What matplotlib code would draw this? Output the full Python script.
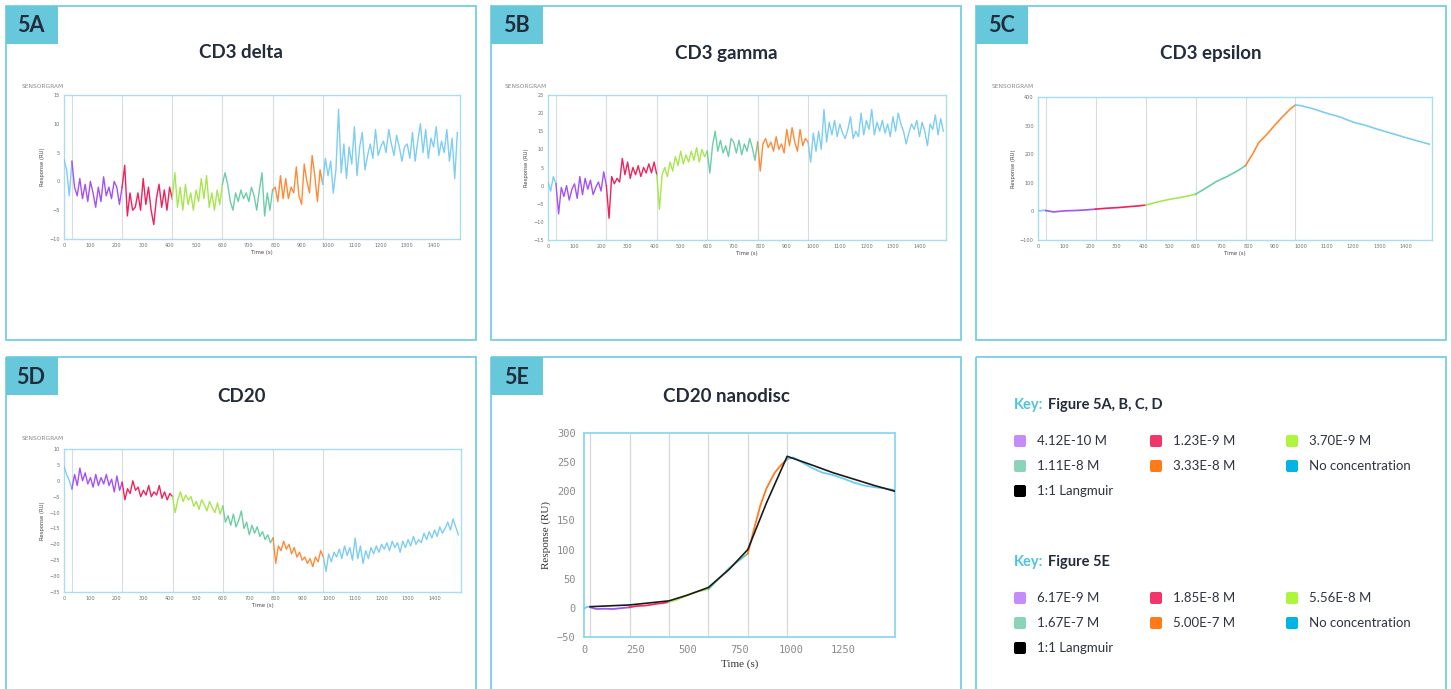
import numpy as np
import matplotlib
matplotlib.use("Agg")
import matplotlib.pyplot as plt
from matplotlib.patches import Rectangle, FancyBboxPatch

W, H = 1451, 689

# injection cycle boundaries (s): baseline, 5 concentrations, dissociation
CYCLES = [0, 30, 220, 410, 600, 790, 980, 1500]
SEG_COLORS = ["#7ECDF2", "#A452F4", "#F0225C", "#A8E650", "#6DCEA6", "#FF8A38", "#7ECDF2"]
FIT_COLORS = ["#6ACDF5", "#9B59F0", "#F03060", "#B4E864", "#60CFA0", "#FF7A20", "#6ACDF5"]

# raw sensorgrams, one reading every 10 s
t_raw = np.arange(0, 1500, 10)

cd3_delta = [
    3.8, 2.0, -2.5, 3.5, -1.0, -2.5, 0.5, -3.0, -0.5, -3.5,
    0.0, -2.0, -4.5, -1.0, -3.5, 0.8, -2.5, -1.0, -3.0, 0.0,
    -1.0, -4.0, -1.0, 2.8, -6.0, -2.0, -5.0, -4.5, -2.0, -5.0,
    0.5, -4.0, -1.0, -5.0, -7.5, -3.0, -0.5, -4.5, -1.5, -5.0,
    -1.0, -3.0, 1.5, -4.5, -1.0, -5.0, -0.5, -4.0, -2.0, -5.0,
    -1.5, -3.5, 0.5, -3.0, 1.0, -4.5, -2.0, -5.0, -1.5, -4.0,
    -0.5, 1.5, -0.5, -3.5, -5.0, -2.0, -3.5, -1.5, -3.0, -2.0,
    -3.5, -1.0, -2.5, -5.0, -1.5, 1.5, -6.0, -2.0, -5.0, -1.5,
    -1.0, -3.5, 1.0, -3.0, 0.5, -3.0, -1.0, -2.0, 2.5, -2.5,
    -4.0, 3.0, 0.0, -2.0, 4.5, 1.0, -3.5, 2.0, -0.5, 4.0,
    1.0, 3.5, -2.0, 2.0, 12.5, 1.5, 6.5, 0.5, 6.0, 3.0,
    9.5, 1.0, 6.0, 8.5, 2.0, 4.5, 6.5, 4.0, 9.0, 4.5,
    6.0, 7.0, 5.0, 9.0, 6.5, 4.5, 8.0, 6.0, 3.5, 6.0,
    6.5, 4.0, 8.5, 3.5, 7.0, 10.0, 5.0, 9.0, 4.0, 7.5,
    6.0, 9.5, 4.5, 7.0, 5.0, 9.0, 3.5, 7.5, 0.5, 8.5,
]

cd3_gamma = [
    1.0, -1.5, 2.5, 0.5, -7.8, -0.5, -3.0, 0.0, -4.0, -1.0,
    0.5, -3.5, 2.5, -2.5, 2.0, -1.0, 1.5, -2.5, -0.5, 1.0,
    -1.5, 3.8, 0.0, -9.0, 2.5, 0.5, 2.0, 1.0, 7.5, 3.0,
    6.5, 2.0, 5.0, 3.0, 5.5, 2.5, 5.0, 3.5, 6.0, 3.5,
    6.5, 3.0, -6.5, 3.0, 5.0, 2.5, 6.5, 4.0, 8.0, 5.5,
    9.5, 6.0, 8.5, 6.5, 9.5, 7.0, 10.5, 6.5, 10.0, 8.0,
    9.5, 3.5, 11.0, 15.0, 9.5, 12.5, 9.0, 11.0, 8.0, 13.0,
    12.0, 9.0, 12.5, 8.5, 11.5, 9.5, 13.0, 10.5, 7.0, 12.0,
    4.0, 11.5, 13.0, 10.5, 12.0, 9.5, 13.5, 10.0, 11.5, 9.0,
    15.5, 11.0, 16.0, 12.0, 9.5, 15.5, 11.0, 13.0, 12.0, 6.5,
    14.5, 9.5, 15.0, 10.0, 21.0, 12.0, 17.5, 14.0, 18.0, 13.5,
    17.0, 14.5, 13.0, 15.5, 19.0, 13.0, 15.0, 13.5, 20.0, 14.0,
    18.0, 15.5, 21.0, 14.0, 17.5, 15.0, 18.0, 14.5, 17.0, 13.5,
    19.0, 15.0, 20.0, 17.0, 15.0, 11.5, 14.5, 17.0, 15.5, 18.0,
    13.5, 17.5, 15.0, 11.0, 17.0, 15.5, 19.5, 14.0, 18.5, 15.0,
]

cd20 = [
    4.5, 2.0, 0.0, -2.5, 2.0, -1.5, 4.0, 0.0, 2.5, -1.0,
    1.0, -2.0, 2.0, -1.5, 1.0, -1.0, 2.0, -1.5, 0.5, -3.5,
    1.5, -3.0, -0.5, -6.0, -2.5, -4.0, 0.0, -3.0, -2.0, -5.0,
    -3.0, -4.5, -1.5, -5.0, -3.5, -4.5, -1.5, -5.5, -3.5, -6.0,
    -4.0, -5.0, -10.0, -6.0, -3.5, -6.5, -4.5, -6.0, -5.0, -8.0,
    -6.5, -9.0, -6.0, -7.5, -9.5, -6.5, -8.5, -10.0, -7.0, -10.5,
    -8.0, -13.0, -11.0, -14.0, -10.5, -14.5, -12.5, -9.5, -15.0, -13.0,
    -17.0, -14.0, -16.5, -14.5, -17.5, -16.0, -18.5, -17.0, -19.5, -18.0,
    -26.0, -20.5, -22.0, -19.0, -21.5, -20.0, -23.0, -21.0, -24.0, -22.5,
    -25.0, -24.0, -26.0, -24.5, -27.0, -24.0, -25.5, -22.0, -24.0, -28.5,
    -23.0, -25.5, -22.5, -24.0, -21.5, -24.5, -20.5, -23.5, -21.0, -25.0,
    -18.0, -24.5, -20.5, -26.0, -22.0, -24.5, -21.0, -23.0, -20.5, -22.5,
    -20.0, -21.5, -19.5, -22.0, -19.0, -21.0, -19.5, -22.5, -19.0, -21.0,
    -18.5, -20.5, -17.5, -20.0, -18.5, -19.5, -16.5, -18.5, -16.0, -18.0,
    -15.5, -17.5, -14.5, -16.5, -15.0, -13.0, -15.5, -12.0, -14.5, -17.0,
]

# CD3 epsilon – smooth binding curve
eps_t = [0, 10, 20, 30, 60, 100, 140, 180, 220, 260, 300, 340, 380, 410,
         450, 500, 550, 600, 640, 680, 720, 760, 790, 820, 840, 870, 900,
         930, 960, 980, 1000, 1050, 1100, 1150, 1200, 1250, 1300, 1350,
         1400, 1450, 1490]
eps_ru = [3, 2, 4, 3, -2, 2, 3, 5, 8, 11, 13, 16, 19, 22,
          32, 42, 50, 60, 82, 105, 122, 142, 160, 205, 240, 268, 300,
          330, 358, 372, 370, 358, 343, 330, 312, 300, 285, 272,
          258, 245, 235]

# CD20 nanodisc – measured curve and 1:1 Langmuir fit
nd_t = [0, 10, 20, 30, 60, 100, 140, 180, 220, 250, 300, 350, 380, 410,
        450, 500, 550, 600, 650, 700, 750, 790, 820, 850, 880, 920, 950,
        980, 1010, 1050, 1100, 1150, 1200, 1250, 1300, 1350, 1400, 1450,
        1500]
nd_ru = [-2, 1, 2, 1, -2, -1.5, -2, -0.5, 1, 3, 4, 7, 8, 10,
         14, 22, 28, 32, 50, 68, 82, 93, 135, 175, 205, 232, 245,
         255, 258, 250, 240, 232, 228, 222, 215, 210, 207, 205,
         202]
fit_t = [30, 220, 410, 500, 600, 700, 790, 880, 980, 1100, 1200, 1300, 1400, 1500]
fit_ru = [2, 5, 12, 22, 35, 66, 100, 180, 260, 245, 232, 221, 210, 200]

key_a_labels = ["4.12E-10 M", "1.23E-9 M", "3.70E-9 M",
                "1.11E-8 M", "3.33E-8 M", "No concentration", "1:1 Langmuir"]
key_e_labels = ["6.17E-9 M", "1.85E-8 M", "5.56E-8 M",
                "1.67E-7 M", "5.00E-7 M", "No concentration", "1:1 Langmuir"]
key_colors = ["#C38CF8", "#F2366C", "#AEF53F", "#8AD4B8", "#FF7B16", "#00B4E6", "#000000"]

BORDER = "#74CFE3"
TAB = "#67C8DC"
INK = "#222C3A"

plt.rcParams["font.family"] = ["Lato", "DejaVu Sans"]


def px_rect(x0, y0, x1, y1):
    return [x0 / W, 1 - y1 / H, (x1 - x0) / W, (y1 - y0) / H]


def draw_cycles(ax, t, y, colors, lw=1.0):
    t = np.asarray(t)
    y = np.asarray(y)
    for i, c in enumerate(colors):
        m = (t >= CYCLES[i]) & (t <= CYCLES[i + 1])
        ax.plot(t[m], y[m], color=c, lw=lw, solid_joinstyle="round", zorder=3)


def style_sensorgram(ax, ylim, yticks):
    ax.set_xlim(0, 1500)
    ax.set_ylim(*ylim)
    ax.set_xticks(range(0, 1500, 100))
    ax.set_yticks(yticks)
    ax.tick_params(length=0, labelsize=3.6, labelcolor="#707070", pad=3)
    for lab in ax.get_xticklabels() + ax.get_yticklabels():
        lab.set_family("DejaVu Sans")
    for s in ax.spines.values():
        s.set_color("#A9DDF2")
        s.set_linewidth(1.0)
    for b in CYCLES[1:-1]:
        ax.axvline(b, color="#D8DBDF", lw=0.8, zorder=1)
    ax.set_xlabel("Time (s)", fontsize=3.8, labelpad=1.5, color="#444444", family="DejaVu Sans")
    ax.set_ylabel("Response (RU)", fontsize=3.8, labelpad=3, color="#444444", family="DejaVu Sans")


fig = plt.figure(figsize=(W / 100, H / 100), dpi=100)
ov = fig.add_axes([0, 0, 1, 1])
ov.set_xlim(0, W)
ov.set_ylim(H, 0)
ov.axis("off")

# panel frames, tabs and titles
panels = [
    (6, 6, 476, 340, "5A", "CD3 delta", 53),
    (491, 6, 961, 340, "5B", "CD3 gamma", 53),
    (976, 6, 1446, 340, "5C", "CD3 epsilon", 53),
    (6, 357, 476, 720, "5D", "CD20", 396),
    (491, 357, 961, 720, "5E", "CD20 nanodisc", 396),
    (976, 357, 1446, 720, None, None, None),
]
for x0, y0, x1, y1, tag, title, ty in panels:
    ov.add_patch(Rectangle((x0, y0), x1 - x0, y1 - y0, fill=False, ec=BORDER, lw=1.3))
    if tag:
        ov.add_patch(Rectangle((x0, y0), 52, 38, fc=TAB, ec="none"))
        ov.text(x0 + 25, y0 + 20, tag, ha="center", va="center",
                fontsize=15.5, fontweight="bold", color=INK)
        ov.text((x0 + x1) / 2, ty, title, ha="center", va="center",
                fontsize=13.5, fontweight="bold", color=INK)

for x, y in [(22, 86), (505, 86), (992, 86), (22, 439)]:
    ov.text(x, y, "SENSORGRAM", fontsize=4.2, color="#888888", va="center",
            family="DejaVu Sans")

# 5A CD3 delta
ax = fig.add_axes(px_rect(64, 95, 460, 239))
draw_cycles(ax, t_raw, cd3_delta, SEG_COLORS)
style_sensorgram(ax, (-10, 15), range(-10, 16, 5))

# 5B CD3 gamma
ax = fig.add_axes(px_rect(548, 95, 946, 240))
draw_cycles(ax, t_raw, cd3_gamma, SEG_COLORS)
style_sensorgram(ax, (-15, 25), range(-15, 26, 5))

# 5C CD3 epsilon
ax = fig.add_axes(px_rect(1038, 97, 1432, 240))
draw_cycles(ax, eps_t, eps_ru, SEG_COLORS, lw=1.2)
style_sensorgram(ax, (-100, 400), range(-100, 401, 100))

# 5D CD20
ax = fig.add_axes(px_rect(64, 449, 461, 592))
draw_cycles(ax, t_raw, cd20, SEG_COLORS)
style_sensorgram(ax, (-35, 10), range(-35, 11, 5))

# 5E CD20 nanodisc with Langmuir fit
ax = fig.add_axes(px_rect(584, 433, 895, 637))
for b in CYCLES[1:-1]:
    ax.axvline(b, color="#D4D7DB", lw=0.9, zorder=1)
draw_cycles(ax, nd_t, nd_ru, FIT_COLORS, lw=1.3)
ax.plot(fit_t, fit_ru, color="#1A1A1A", lw=1.2, zorder=4)
ax.set_xlim(0, 1500)
ax.set_ylim(-50, 300)
ax.set_xticks(range(0, 1500, 250))
ax.set_yticks(range(-50, 301, 50))
ax.tick_params(length=0, labelsize=7.5, labelcolor="#8A8A8A", pad=6)
for lab in ax.get_xticklabels() + ax.get_yticklabels():
    lab.set_family("DejaVu Sans Mono")
for s in ax.spines.values():
    s.set_color("#8DD8F0")
    s.set_linewidth(1.3)
ax.set_xlabel("Time (s)", fontsize=8, family="Liberation Serif", color="#333333", labelpad=3)
ax.set_ylabel("Response (RU)", fontsize=8, family="Liberation Serif", color="#333333", labelpad=4)

# keys
col_x = [1014, 1150, 1286]
for head_y, labels, head in [(405, key_a_labels, "Figure 5A, B, C, D"),
                             (562, key_e_labels, "Figure 5E")]:
    ov.text(1014, head_y, "Key:", fontsize=10.5, fontweight="bold", color="#4EC4DE", va="center")
    ov.text(1048, head_y, head, fontsize=10.5, fontweight="bold", color=INK, va="center")
    for i, (lab, c) in enumerate(zip(labels, key_colors)):
        cx = col_x[i % 3]
        cy = head_y + 36 + 25 * (i // 3)
        ov.add_patch(FancyBboxPatch((cx, cy - 6), 12, 12, boxstyle="round,pad=0,rounding_size=2",
                                    fc=c, ec="none"))
        ov.text(cx + 23, cy, lab, fontsize=9.5, color="#2E3440", va="center")

fig.savefig("out.png", dpi=100, facecolor="white")
